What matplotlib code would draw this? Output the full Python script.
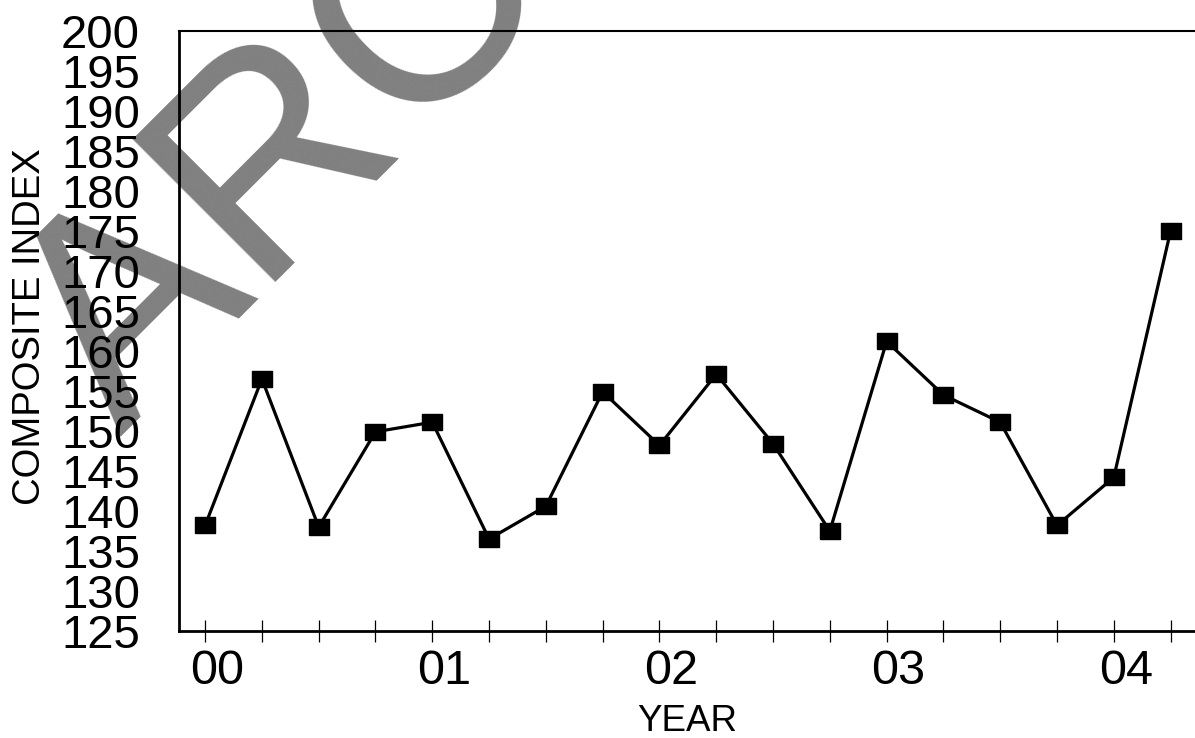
import matplotlib
matplotlib.use("Agg")
import matplotlib.pyplot as plt
from matplotlib.transforms import ScaledTranslation

plt.rcParams['font.family'] = ['Liberation Sans', 'DejaVu Sans']

# quarterly composite index, 2000 Q1 .. 2004 Q2
quarters = list(range(18))
index_vals = [138.2, 156.5, 138.0, 149.9, 151.1, 136.5, 140.6, 154.9, 148.2,
              157.1, 148.4, 137.5, 161.2, 154.5, 151.1, 138.2, 144.2, 175.0]
year_labels = ['00', '01', '02', '03', '04']
y_ticks = list(range(125, 201, 5))

fig = plt.figure(figsize=(11.95, 7.38), dpi=100)
fig.patch.set_facecolor('white')

# grey watermark behind the plot
fig.text(120 / 1195, 1 - 437 / 738, 'ARC', fontsize=212, color='#808080',
         rotation=45, rotation_mode='anchor', ha='left', va='baseline',
         zorder=-1)

ax = fig.add_axes([179 / 1195, 107 / 738, 1016 / 1195, 600 / 738])
ax.patch.set_alpha(0)

# rectangular marker, a bit wider than tall
rect = [(-1, -0.76), (1, -0.76), (1, 0.76), (-1, 0.76), (-1, -0.76)]
ax.plot(quarters, index_vals, color='black', lw=2.3, marker=rect,
        markersize=15, markerfacecolor='black', markeredgecolor='black')

ax.set_xlim(-0.46, 17.43)
ax.set_ylim(125, 200)

ax.set_yticks(y_ticks)
ax.set_yticklabels([str(v) for v in y_ticks], fontsize=34)
ax.tick_params(axis='y', length=0, pad=28)

ax.set_xticks(quarters)
ax.set_xticklabels([year_labels[q // 4] if q % 4 == 0 else '' for q in quarters],
                   fontsize=35)
ax.tick_params(axis='x', direction='inout', length=16.5, width=0.9, pad=5)
# year labels sit a little right of their ticks in the original
shift = ScaledTranslation(12 / 100, 0, fig.dpi_scale_trans)
for lab in ax.get_xticklabels():
    lab.set_transform(lab.get_transform() + shift)

ax.spines['right'].set_visible(False)
ax.spines['top'].set_linewidth(1.5)
ax.spines['left'].set_linewidth(2)
ax.spines['bottom'].set_linewidth(2)

ax.set_ylabel('COMPOSITE INDEX', fontsize=27.5)
ax.yaxis.set_label_coords(-0.129, 0.507)
ax.set_xlabel('YEAR', fontsize=26.5)
ax.xaxis.set_label_coords(0.5, -0.122)

fig.savefig('out.png', dpi=100)
